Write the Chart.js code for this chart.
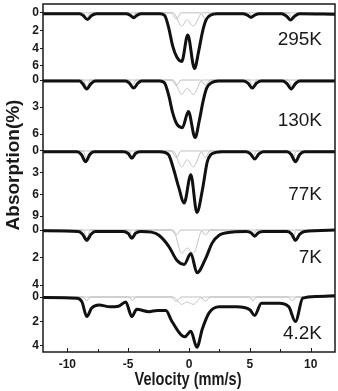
<!DOCTYPE html>
<html>
<head>
<meta charset="utf-8">
<script src="https://cdn.jsdelivr.net/npm/chart.js@4.4.0/dist/chart.umd.min.js"></script>
<style>
  html, body { margin: 0; padding: 0; background: #fff; }
  #wrap { position: relative; width: 338px; height: 391px; }
</style>
</head>
<body>
<div id="wrap"><canvas id="mossChart"></canvas></div>
<script>
// panels, top to bottom
var temps = ['295K', '130K', '77K', '7K', '4.2K'];

// velocity (mm/s) and absorption (%)
var vel295 = [-12, -9.0, -8.7, -8.35, -8.0, -7.6, -5.2, -4.85, -4.55, -4.25, -3.9, -2.4, -2.0, -1.65, -1.35, -1.0, -0.6, -0.1, 0.45, 0.8, 1.1, 1.4, 1.8, 2.3, 4.4, 4.8, 5.1, 5.4, 5.8, 7.6, 8.0, 8.35, 8.7, 9.1, 12];
var abs295 = [0.1, 0.1, 0.3, 0.75, 0.3, 0.1, 0.1, 0.25, 0.55, 0.25, 0.1, 0.1, 0.3, 1.8, 3.7, 5.0, 5.5, 2.5, 6.3, 4.3, 2.2, 0.8, 0.25, 0.1, 0.1, 0.25, 0.5, 0.25, 0.1, 0.1, 0.35, 0.8, 0.35, 0.1, 0.15];

var vel130 = [-12, -9.0, -8.75, -8.4, -8.05, -7.7, -5.2, -4.9, -4.55, -4.2, -3.9, -2.4, -2.0, -1.65, -1.35, -1.0, -0.55, -0.05, 0.5, 0.85, 1.15, 1.45, 1.85, 2.4, 4.5, 4.85, 5.2, 5.55, 5.9, 7.7, 8.05, 8.4, 8.75, 9.1, 12];
var abs130 = [0.1, 0.1, 0.4, 1.0, 0.4, 0.1, 0.1, 0.35, 0.9, 0.35, 0.1, 0.1, 0.35, 1.8, 3.6, 4.9, 5.3, 3.5, 6.4, 4.5, 2.4, 0.9, 0.3, 0.1, 0.1, 0.35, 0.9, 0.35, 0.1, 0.1, 0.4, 1.0, 0.4, 0.1, 0.1];

var vel77 = [-12, -9.2, -8.85, -8.5, -8.15, -7.8, -5.4, -5.0, -4.7, -4.4, -4.0, -2.4, -2.0, -1.65, -1.25, -0.85, -0.4, 0.15, 0.65, 1.1, 1.5, 1.8, 2.2, 2.7, 4.7, 5.05, 5.4, 5.75, 6.1, 8.05, 8.4, 8.75, 9.1, 9.5, 12];
var abs77 = [0.1, 0.1, 0.5, 1.5, 0.5, 0.1, 0.1, 0.35, 1.0, 0.35, 0.1, 0.1, 0.2, 0.6, 2.6, 5.0, 7.2, 3.3, 8.5, 5.4, 1.5, 0.5, 0.2, 0.1, 0.1, 0.4, 1.1, 0.4, 0.1, 0.1, 0.5, 1.5, 0.5, 0.1, 0.1];

var vel7 = [-12, -9.1, -8.75, -8.4, -8.05, -7.7, -5.4, -5.0, -4.7, -4.4, -4.0, -3.1, -2.5, -1.65, -1.0, -0.4, 0.15, 0.66, 1.4, 1.9, 2.5, 3.1, 4.7, 5.1, 5.4, 5.7, 6.1, 8.05, 8.45, 8.75, 9.1, 9.5, 12];
var abs7 = [0.05, 0.1, 0.3, 0.75, 0.3, 0.1, 0.1, 0.25, 0.6, 0.25, 0.1, 0.15, 0.36, 1.2, 2.2, 2.5, 1.7, 3.1, 2.0, 0.95, 0.36, 0.2, 0.1, 0.2, 0.45, 0.2, 0.1, 0.1, 0.3, 0.75, 0.3, 0.1, 0.0];

var vel42 = [-12, -9.2, -8.8, -8.4, -8.0, -7.4, -6.5, -5.8, -5.2, -4.7, -4.3, -3.3, -2.6, -1.9, -1.4, -0.35, 0.15, 0.65, 1.1, 1.65, 2.5, 3.9, 5.0, 5.4, 5.95, 7.4, 8.2, 8.75, 9.35, 10.5, 12];
var abs42 = [0.05, 0.1, 0.4, 1.6, 0.9, 0.65, 0.8, 0.75, 0.4, 1.6, 1.0, 1.2, 1.1, 1.1, 2.0, 3.25, 2.8, 4.1, 2.6, 1.3, 0.8, 0.8, 1.05, 1.5, 0.5, 0.5, 0.8, 2.0, 0.1, -0.05, -0.1];

// fitted sub-spectra (thin grey): sextet + small doublet
var sextVel = [-12, -8.7, -8.4, -8.1, -4.95, -4.65, -4.35, -1.45, -1.05, -0.65, 0.95, 1.35, 1.75, 4.95, 5.25, 5.55, 8.15, 8.5, 8.85, 12];
var sext295 = [0, 0, 0.6, 0, 0, 0.45, 0, 0, 0.7, 0, 0, 0.7, 0, 0, 0.45, 0, 0, 0.6, 0, 0];
var sext130 = [0, 0, 0.8, 0, 0, 0.7, 0, 0, 0.6, 0, 0, 0.6, 0, 0, 0.7, 0, 0, 0.8, 0, 0];
var sext77 = [0, 0, 1.2, 0, 0, 0.8, 0, 0, 0.9, 0, 0, 0.9, 0, 0, 0.8, 0, 0, 1.2, 0, 0];
var sext7 = [0, 0, 0.6, 0, 0, 0.45, 0, 0, 0.35, 0, 0, 0.35, 0, 0, 0.4, 0, 0, 0.6, 0, 0];
var sext42 = [0, 0, 0.3, 0, 0, 0.3, 0, 0, 0.35, 0, 0, 0.35, 0, 0, 0.3, 0, 0, 0.3, 0, 0];

var dblVel = [-12, -1.3, -0.6, -0.15, 0.35, 1.1, 12];
var dbl295 = [0, 0, 1.5, 0.8, 1.5, 0, 0];
var dbl130 = [0, 0, 1.6, 0.9, 1.6, 0, 0];
var dbl77 = [0, 0, 2.2, 1.2, 2.2, 0, 0];
var dbl7 = [0, 0, 1.7, 1.3, 1.7, 0, 0];
var dbl42 = [0, 0, 0.6, 0.4, 0.6, 0, 0];

// tick labels
var yTicks = [[0, 2, 4, 6], [0, 3, 6], [0, 3, 6, 9], [0, 2, 4], [0, 2, 4]];
var velTicks = [-10, -5, 0, 5, 10];
var velMinor = [-10, -7.5, -5, -2.5, 0, 2.5, 5, 7.5, 10];

var spectra = [[vel295, abs295], [vel130, abs130], [vel77, abs77], [vel7, abs7], [vel42, abs42]];
var sextets = [sext295, sext130, sext77, sext7, sext42];
var doublets = [dbl295, dbl130, dbl77, dbl7, dbl42];

// panel layout
var yRange = [[-1.0, 6.8], [-0.78, 7.0], [-1.1, 10.1], [-0.44, 4.43], [-0.49, 4.49]];
var panelH = [69, 70, 81, 67, 61];
var labelDrop = [36, 48, 52, 34, 43];

function pts(xs, ys) {
  return xs.map(function(x, i) { return {x: x, y: ys[i]}; });
}

var datasets = [];
temps.forEach(function(t, i) {
  datasets.push({
    label: t, data: pts(spectra[i][0], spectra[i][1]), yAxisID: 'y' + i,
    borderColor: '#111', borderWidth: 3, pointRadius: 0,
    cubicInterpolationMode: 'monotone', order: 0
  });
});
temps.forEach(function(t, i) {
  datasets.push({
    label: t + ' sextet', data: pts(sextVel, sextets[i]), yAxisID: 'y' + i,
    borderColor: '#bdbdbd', borderWidth: 1, pointRadius: 0,
    cubicInterpolationMode: 'monotone', order: 2
  });
  datasets.push({
    label: t + ' doublet', data: pts(dblVel, doublets[i]), yAxisID: 'y' + i,
    borderColor: '#c4c4c4', borderWidth: 1, pointRadius: 0,
    cubicInterpolationMode: 'monotone', order: 2
  });
});

var tickFont = {family: '"Liberation Sans", Arial, sans-serif', size: 12, weight: 'bold'};

var scales = {
  x: {
    type: 'linear', position: 'bottom', min: -12, max: 12,
    border: {display: false},
    grid: {display: false},
    ticks: {color: '#1a1a1a', font: tickFont, padding: -3, autoSkip: false, maxRotation: 0},
    afterBuildTicks: function(s) { s.ticks = velTicks.map(function(v) { return {value: v}; }); },
    afterFit: function(s) { s.height = 39; s.paddingLeft = 0; s.paddingRight = 0; }
  }
};
temps.forEach(function(t, i) {
  scales['y' + i] = {
    type: 'linear', position: 'left', stack: 'abs', stackWeight: panelH[i],
    weight: 10 - i, reverse: true, min: yRange[i][0], max: yRange[i][1],
    border: {display: false},
    grid: {drawOnChartArea: false, tickLength: 3, color: '#1a1a1a'},
    ticks: {color: '#1a1a1a', font: tickFont, padding: 1, autoSkip: false},
    afterBuildTicks: function(s) { s.ticks = yTicks[i].map(function(v) { return {value: v}; }); },
    afterFit: function(s) { s.width = 43; s.paddingTop = 0; s.paddingBottom = 0; }
  };
});

var overlay = {
  id: 'overlay',
  afterDraw: function(chart) {
    var ctx = chart.ctx, a = chart.chartArea, xs = chart.scales.x;
    ctx.save();
    ctx.strokeStyle = '#1a1a1a';
    ctx.lineWidth = 1.5;
    ctx.strokeRect(a.left, a.top, a.right - a.left, a.bottom - a.top);
    ctx.lineWidth = 1;
    velMinor.forEach(function(v) {
      var px = Math.round(xs.getPixelForValue(v)) + 0.5;
      ctx.beginPath();
      ctx.moveTo(px, a.bottom);
      ctx.lineTo(px, a.bottom - (v % 5 === 0 ? 4 : 3));
      ctx.stroke();
    });
    ctx.fillStyle = '#1a1a1a';
    ctx.font = '19px "Liberation Sans", Arial, sans-serif';
    ctx.textAlign = 'right';
    ctx.textBaseline = 'middle';
    temps.forEach(function(t, i) {
      var s = chart.scales['y' + i];
      ctx.fillText(t, a.right - 13, s.top + labelDrop[i]);
    });
    // axis titles
    ctx.textAlign = 'center';
    ctx.textBaseline = 'alphabetic';
    ctx.font = 'bold 18px "Liberation Sans", Arial, sans-serif';
    var xt = 'Velocity (mm/s)';
    var w = ctx.measureText(xt).width;
    ctx.save();
    ctx.translate(188, 385);
    ctx.scale(107 / w, 1);
    ctx.fillText(xt, 0, 0);
    ctx.restore();
    ctx.font = 'bold 19px "Liberation Sans", Arial, sans-serif';
    ctx.save();
    ctx.translate(19, 165);
    ctx.rotate(-Math.PI / 2);
    ctx.fillText('Absorption(%)', 0, 0);
    ctx.restore();
    ctx.restore();
  }
};

new Chart(document.getElementById('mossChart'), {
  type: 'line',
  data: {datasets: datasets},
  options: {
    responsive: true,
    maintainAspectRatio: false,
    animation: false,
    layout: {padding: {left: 0, top: 4, right: 3, bottom: 0}},
    plugins: {legend: {display: false}, tooltip: {enabled: false}},
    scales: scales
  },
  plugins: [overlay]
});
</script>
</body>
</html>
